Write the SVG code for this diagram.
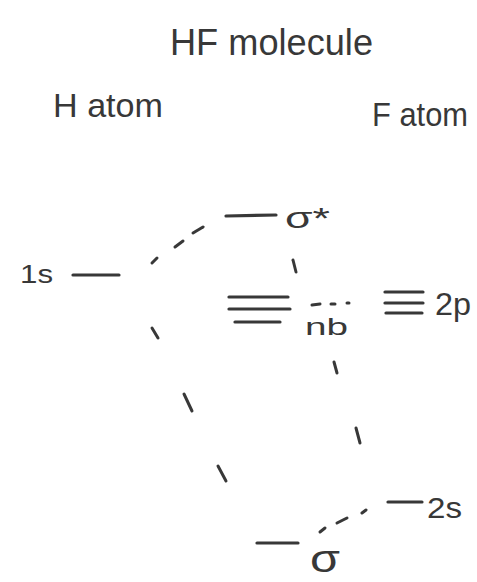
<svg xmlns="http://www.w3.org/2000/svg" width="477" height="582" viewBox="0 0 477 582">
<style>
.lvl{stroke:#383838;stroke-width:3.2;stroke-linecap:round;fill:none}
.dash{stroke:#383838;stroke-width:3;stroke-linecap:round;fill:none}
.t{font-family:"Liberation Sans","DejaVu Sans",sans-serif;fill:#383838}
</style>
<rect width="477" height="582" fill="#ffffff"/>
<g id="title"><text class="t" x="170" y="55" font-size="36" textLength="203" lengthAdjust="spacingAndGlyphs">HF molecule</text></g>
<g id="h-atom"><text class="t" x="53" y="117" font-size="34" textLength="110" lengthAdjust="spacingAndGlyphs">H atom</text></g>
<g id="f-atom"><text class="t" x="372" y="126" font-size="34" textLength="96" lengthAdjust="spacingAndGlyphs">F atom</text></g>
<g id="h-1s">
<line class="lvl" x1="73" y1="275" x2="119" y2="275"/>
<text class="t" x="20" y="283" font-size="25" textLength="33" lengthAdjust="spacingAndGlyphs">1s</text>
</g>
<g id="sigma-star">
<line class="lvl" x1="226" y1="216" x2="276" y2="215"/>
<text class="t" x="285" y="228" font-size="30" textLength="45" lengthAdjust="spacingAndGlyphs">σ*</text>
</g>
<g id="nb">
<line class="lvl" x1="229" y1="297" x2="288" y2="297"/>
<line class="lvl" x1="229" y1="309" x2="290" y2="309"/>
<line class="lvl" x1="235" y1="322" x2="280" y2="322"/>
<text class="t" x="305" y="335" font-size="24" textLength="43" lengthAdjust="spacingAndGlyphs">nb</text>
</g>
<g id="f-2p">
<line class="lvl" x1="385" y1="292" x2="423" y2="292"/>
<line class="lvl" x1="385" y1="303" x2="423" y2="303"/>
<line class="lvl" x1="386" y1="313" x2="422" y2="313"/>
<text class="t" x="435" y="315" font-size="32" textLength="36" lengthAdjust="spacingAndGlyphs">2p</text>
</g>
<g id="f-2s">
<line class="lvl" x1="388" y1="502" x2="422" y2="502"/>
<text class="t" x="427" y="518" font-size="30" textLength="35" lengthAdjust="spacingAndGlyphs">2s</text>
</g>
<g id="sigma">
<line class="lvl" x1="257" y1="543" x2="298" y2="543"/>
<text class="t" x="310" y="572" font-size="38" textLength="30" lengthAdjust="spacingAndGlyphs">σ</text>
</g>
<g id="connectors">
<g id="c-1s-sigmastar">
<line class="dash" x1="152" y1="263" x2="157" y2="258"/>
<line class="dash" x1="175" y1="247" x2="183" y2="241"/>
<line class="dash" x1="193" y1="233" x2="203" y2="227"/>
</g>
<g id="c-1s-sigma">
<line class="dash" x1="152" y1="328" x2="158" y2="338"/>
<line class="dash" x1="184" y1="394" x2="192" y2="411"/>
<line class="dash" x1="218" y1="466" x2="226" y2="481"/>
</g>
<g id="c-2s-sigmastar">
<line class="dash" x1="293" y1="260" x2="296" y2="272"/>
<line class="dash" x1="334" y1="362" x2="337" y2="373"/>
<line class="dash" x1="356" y1="428" x2="360" y2="443"/>
</g>
<g id="c-2s-sigma">
<line class="dash" x1="320" y1="532" x2="325" y2="528"/>
<line class="dash" x1="337" y1="523" x2="347" y2="518"/>
<line class="dash" x1="362" y1="513" x2="366" y2="510"/>
</g>
<g id="c-2p-nb">
<line class="dash" x1="312" y1="305" x2="320" y2="304"/>
<line class="dash" x1="331" y1="304" x2="335" y2="304"/>
<line class="dash" x1="347" y1="303" x2="349" y2="303"/>
</g>
</g>
</svg>
